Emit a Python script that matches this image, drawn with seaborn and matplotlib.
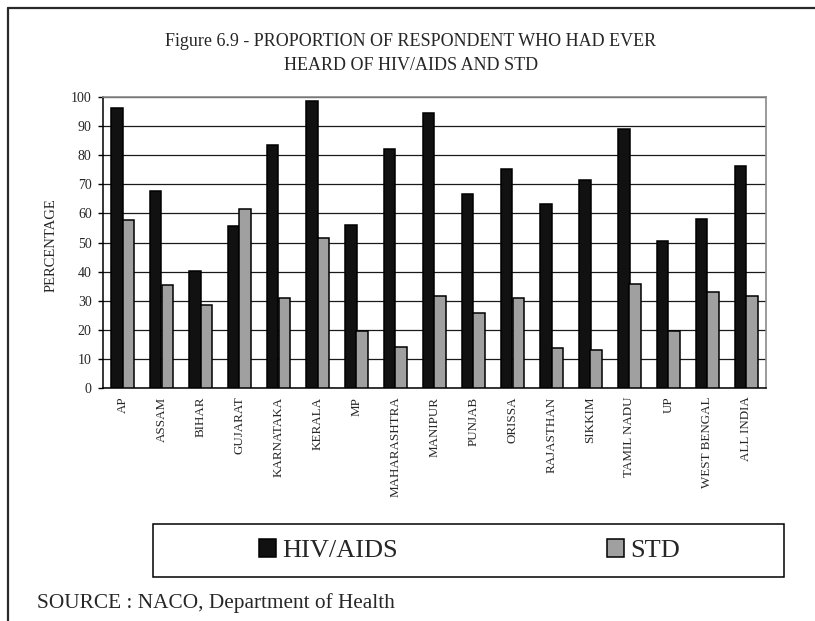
import matplotlib
matplotlib.use("Agg")
import matplotlib.pyplot as plt
from matplotlib.patches import Rectangle
from matplotlib.lines import Line2D
import numpy as np
import pandas as pd
import seaborn as sns

# Survey results by state
states = ["AP", "ASSAM", "BIHAR", "GUJARAT", "KARNATAKA", "KERALA", "MP",
          "MAHARASHTRA", "MANIPUR", "PUNJAB", "ORISSA", "RAJASTHAN", "SIKKIM",
          "TAMIL NADU", "UP", "WEST BENGAL", "ALL INDIA"]
hiv_aids = [96.2, 67.6, 40.2, 55.6, 83.6, 98.6, 55.9, 81.9, 94.3, 66.8,
            75.3, 63.2, 71.6, 88.9, 50.5, 58.1, 76.1]
std = [57.7, 35.4, 28.7, 61.4, 31.0, 51.4, 19.8, 14.3, 31.6, 25.9,
       31.0, 13.9, 13.1, 35.8, 19.8, 32.9, 31.7]
series_names = ["HIV/AIDS", "STD"]
y_ticks = list(range(0, 101, 10))

df = pd.DataFrame({
    "state": states * 2,
    "value": hiv_aids + std,
    "series": [series_names[0]] * len(states) + [series_names[1]] * len(states),
})

sns.set_theme(style="white")
plt.rcParams["font.family"] = ["Liberation Serif", "DejaVu Serif"]

W, H = 815, 621
fig = plt.figure(figsize=(W / 100, H / 100), dpi=100)
ax = fig.add_axes([103 / W, 1 - 388.3 / H, (766 - 103) / W, (388.3 - 96.7) / H])

sns.barplot(data=df, x="state", y="value", hue="series", order=states,
            hue_order=series_names, palette=["#111111", "#a0a0a0"],
            width=0.6, edgecolor="black", linewidth=1.1, saturation=1,
            ax=ax, zorder=3)

handles, labels = ax.get_legend_handles_labels()
if ax.get_legend() is not None:
    ax.get_legend().remove()

ax.set_ylim(0, 100)
ax.set_xlim(-0.5, len(states) - 0.5)
ax.set_yticks(y_ticks)
ax.set_yticklabels([str(t) for t in y_ticks], fontsize=10)
ax.yaxis.grid(True, color="#1a1a1a", linewidth=0.9, zorder=0)
ax.set_axisbelow(True)
ax.set_xlabel("")
ax.set_ylabel("")
fig.text(51 / W, 1 - 245 / H, "PERCENTAGE", rotation=90, ha="center", va="center",
         fontsize=10.5)

ax.set_xticks(range(len(states)))
ax.set_xticklabels(states, rotation=90, fontsize=9.4, va="top")
ax.set_xticks(np.arange(-0.5, len(states), 1.0), minor=True)
ax.tick_params(axis="x", which="major", length=0, pad=6)
ax.tick_params(axis="x", which="minor", direction="out", length=3.6, width=1, color="black")
ax.tick_params(axis="y", direction="out", length=3.6, width=1, color="black", pad=4.5,
               left=True)

for side in ["left", "bottom"]:
    ax.spines[side].set_color("black")
    ax.spines[side].set_linewidth(1.1)
for side in ["top", "right"]:
    ax.spines[side].set_color("#8a8a8a")
    ax.spines[side].set_linewidth(1.2)

fig.text(411 / W, 1 - 53.5 / H,
         "Figure 6.9 - PROPORTION OF RESPONDENT WHO HAD EVER\nHEARD OF HIV/AIDS AND STD",
         ha="center", va="center", fontsize=13, linespacing=1.6)

# Legend panel
fig.add_artist(Rectangle((153 / W, 1 - 577 / H), (784 - 153) / W, (577 - 524) / H,
                         transform=fig.transFigure, facecolor="white",
                         edgecolor="black", linewidth=1.1))
fig.legend(handles, labels, loc="center", bbox_to_anchor=(469.5 / W, 1 - 550.5 / H),
           ncol=2, frameon=False, fontsize=19, handlelength=0.66, handleheight=0.66,
           handletextpad=0.25, columnspacing=7.9, borderpad=0)

fig.text(37 / W, 1 - 603 / H, "SOURCE : NACO, Department of Health",
         ha="left", va="center", fontsize=15.3)

# Outer frame on the top and left edges
fig.add_artist(Line2D([8 / W, 1.0], [1 - 8 / H, 1 - 8 / H], transform=fig.transFigure,
                      color="#2a2a2a", linewidth=1.6))
fig.add_artist(Line2D([8 / W, 8 / W], [0.0, 1 - 8 / H], transform=fig.transFigure,
                      color="#2a2a2a", linewidth=1.6))

fig.savefig("out.png", dpi=100)
